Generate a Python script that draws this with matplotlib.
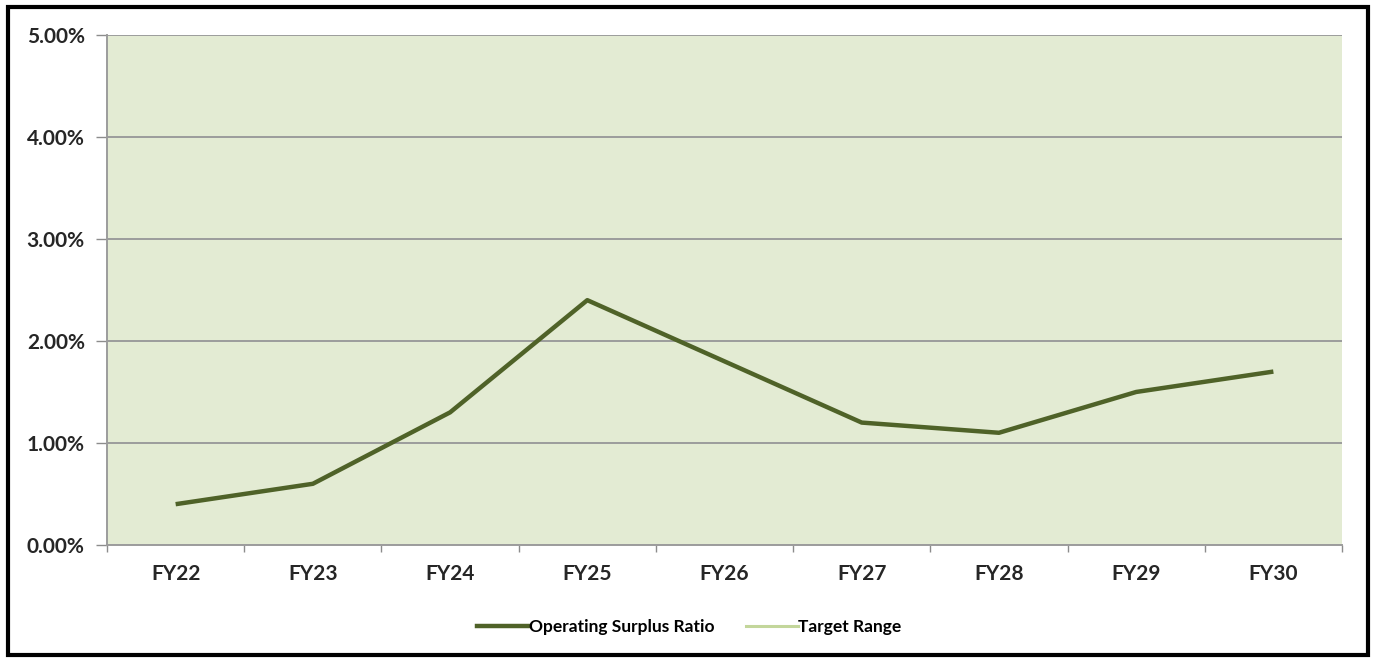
import matplotlib.pyplot as plt
from matplotlib.lines import Line2D
from matplotlib.patches import Rectangle
from matplotlib.ticker import FixedLocator, FuncFormatter

years = ['FY22', 'FY23', 'FY24', 'FY25', 'FY26', 'FY27', 'FY28', 'FY29', 'FY30']
surplus_ratio = [0.40, 0.60, 1.30, 2.40, 1.80, 1.20, 1.10, 1.50, 1.70]
target_low = 0.0
target_high = 5.0

plt.rcParams['font.family'] = ['Lato', 'DejaVu Sans']
plt.rcParams['font.weight'] = 'bold'

fig = plt.figure(figsize=(13.74, 6.59), dpi=100)
ax = fig.add_axes([0.0779, 0.173, 0.8988, 0.774])

x = list(range(len(years)))

# shaded target band
ax.axhspan(target_low, target_high, color='#e3ebd3', zorder=0)
ax.plot(x, surplus_ratio, color='#4f6228', lw=3.2, solid_capstyle='butt', zorder=3)

ax.set_xlim(-0.5, len(years) - 0.5)
ax.set_ylim(0, 5)
ax.set_yticks([0, 1, 2, 3, 4, 5])
ax.yaxis.set_major_formatter(FuncFormatter(lambda v, p: f'{v:.2f}%'))
ax.grid(axis='y', color='#9c9c9c', lw=1.4, zorder=1)

ax.set_xticks(x)
ax.set_xticklabels(years)
ax.xaxis.set_minor_locator(FixedLocator([i + 0.5 for i in range(-1, len(years))]))
ax.tick_params(axis='x', which='major', length=0, pad=14, labelsize=15, colors='#262626')
ax.tick_params(axis='x', which='minor', length=5, width=1, color='#8c8c8c', direction='out')
ax.tick_params(axis='y', length=8, width=1, color='#8c8c8c', pad=8, labelsize=15, labelcolor='#262626')

for s in ['top', 'right']:
    ax.spines[s].set_visible(False)
for s in ['left', 'bottom']:
    ax.spines[s].set_color('#9c9c9c')
    ax.spines[s].set_linewidth(1.4)

handles = [Line2D([], [], color='#4f6228', lw=3.2),
           Line2D([], [], color='#c3d69b', lw=2.2)]
fig.legend(handles, ['Operating Surplus Ratio', 'Target Range'], loc='center',
           bbox_to_anchor=(0.5015, 0.048), ncol=2, frameon=False, handlelength=3.0,
           handletextpad=0.0, columnspacing=1.8, prop={'size': 12.5, 'weight': 'bold'})

# outer chart border
fig.patches.append(Rectangle((8 / 1374, 4 / 659), 1360 / 1374, 648 / 659,
                             transform=fig.transFigure, fill=False,
                             edgecolor='black', lw=3))

fig.savefig('out.png', dpi=100)
